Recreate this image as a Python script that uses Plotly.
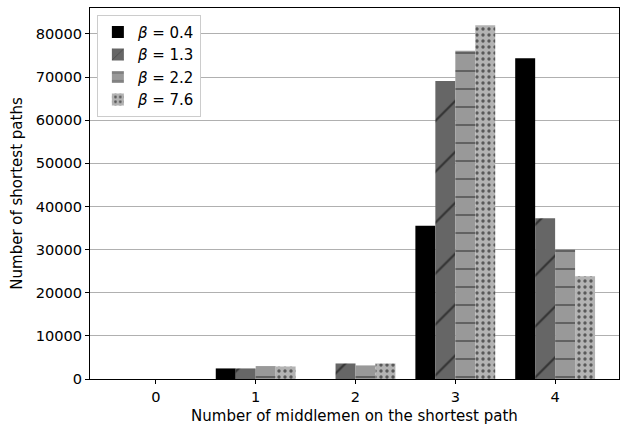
import plotly.graph_objects as go

categories = [0, 1, 2, 3, 4]
beta_labels = ["0.4", "1.3", "2.2", "7.6"]
vals_04 = [0, 2450, 0, 35550, 74350]
vals_13 = [0, 2450, 3600, 69100, 37250]
vals_22 = [0, 3000, 3150, 76100, 30150]
vals_76 = [0, 2900, 3600, 82000, 23800]
series = [vals_04, vals_13, vals_22, vals_76]

colors = ["#000000", "#666666", "#999999", "#b3b3b3"]
shapes = ["", "/", "-", "."]
psizes = [8, 36, 18, 6]
solid = [0.1, 0.06, 0.08, 0.25]

fig = go.Figure()
for lab, vals, c, sh, ps, so in zip(beta_labels, series, colors, shapes, psizes, solid):
    fig.add_trace(go.Bar(
        x=categories, y=vals, name=f"<i>β</i> = {lab}",
        marker=dict(color=c, line=dict(width=0),
                    pattern=dict(shape=sh, fgcolor="#000000", size=ps, solidity=so,
                                 fillmode="overlay")),
    ))

fig.update_layout(
    width=620, height=425,
    margin=dict(l=90, r=1, t=8, b=46),
    barmode="group", bargap=0.2, bargroupgap=0,
    plot_bgcolor="white", paper_bgcolor="white",
    font=dict(family="DejaVu Sans", size=14.6, color="#000000"),
    legend=dict(x=0.013, y=0.982, xanchor="left", yanchor="top",
                bgcolor="white", bordercolor="#cccccc", borderwidth=1,
                font=dict(size=15), tracegroupgap=4),
    xaxis=dict(range=[-0.66, 4.64], tickmode="array", tickvals=categories,
               ticktext=[str(c) for c in categories],
               showline=True, linecolor="#000000", linewidth=1, mirror=True,
               ticks="outside", ticklen=4, tickcolor="#000000", showgrid=False,
               title=dict(text="Number of middlemen on the shortest path", standoff=8,
                          font=dict(size=15)),
               zeroline=False, automargin=False),
    yaxis=dict(range=[0, 86000], tickvals=[0, 10000, 20000, 30000, 40000, 50000, 60000, 70000, 80000],
               tickformat="d",
               showline=True, linecolor="#000000", linewidth=1, mirror=True,
               ticks="outside", ticklen=4, tickcolor="#000000",
               showgrid=True, gridcolor="#b0b0b0", gridwidth=1,
               title=dict(text="Number of shortest paths", standoff=9, font=dict(size=15)),
               zeroline=False, automargin=False),
)

fig.write_html("out.html", config={"displayModeBar": False},
               post_script="document.body.style.margin='0';")
